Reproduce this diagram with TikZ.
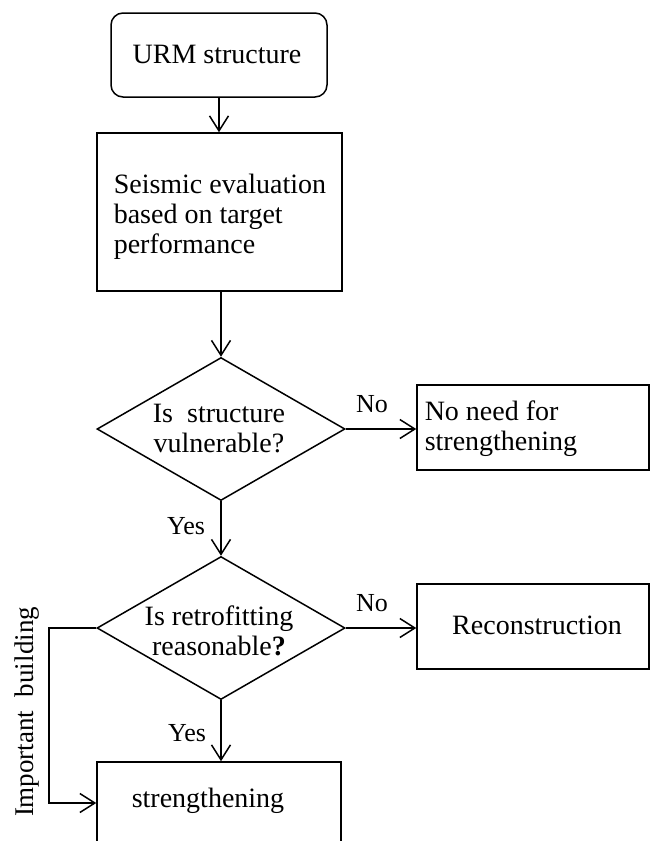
\documentclass[tikz,border=0pt]{standalone}
\usepackage{fontspec}
\setmainfont{Liberation Serif}
\usetikzlibrary{arrows.meta,shapes.geometric}
\begin{document}
\begin{tikzpicture}[x=1pt,y=-1pt,
  line width=1.5pt,
  box/.style={draw, rectangle, inner sep=0pt},
  dia/.style={draw, diamond, inner sep=0pt, minimum width=248pt, minimum height=143pt},
  arr/.style={-{Straight Barb[length=15pt,width=19pt]}},
  big/.style={font=\fontsize{28}{30}\selectfont, inner sep=0pt},
  lab/.style={font=\fontsize{26}{28}\selectfont, inner sep=0pt},
]
\useasboundingbox (0,0) rectangle (650,841);
\clip (0,0) rectangle (650,841);

% nodes
\node[box, rounded corners=12pt, minimum width=216pt, minimum height=84pt] (urm) at (219,55) {};
\node[big] (urmt) at (217,54) {URM structure};

\node[box, minimum width=245pt, minimum height=158pt] (seis) at (219.5,212) {};
\node[big, anchor=west, align=left] (seist) at (113,217) {Seismic evaluation\\based on target\\performance};

\node[dia] (d1) at (221,429) {};
\node[big, align=center] (d1t) at (219,429) {Is\ \ structure\\vulnerable?};

\node[box, minimum width=232pt, minimum height=85pt] (nn) at (533,427.5) {};
\node[big, anchor=west, align=left] (nnt) at (424,429) {No need for\\strengthening};

\node[dia] (d2) at (221,628) {};
\node[big, align=center] (d2t) at (219,631) {Is retrofitting\\reasonable\textbf{?}};

\node[box, minimum width=232pt, minimum height=85pt] (rec) at (533,626.5) {};
\node[big] (rect) at (537,625) {Reconstruction};

\node[box, minimum width=244pt, minimum height=140pt] (str) at (219,832) {};
\node[big] (strt) at (208,801) {strengthening};

% labels
\node[lab] (no1) at (372,404) {No};
\node[lab] (no2) at (372,603) {No};
\node[lab] (yes1) at (186,526) {Yes};
\node[lab] (yes2) at (187,733) {Yes};
\node[inner sep=0pt, font=\fontsize{27}{29}\selectfont, rotate=90] (imp) at (27,712) {Important\ \ building};

% connectors
\coordinate (ib) at (49,803);
\draw[arr] (urm.south) -- (urm.south |- seis.north);
\draw[arr] (d1.north |- seis.south) -- (d1.north);
\draw[arr] (d1.east) -- (d1.east -| nn.west);
\draw[arr] (d1.south) -- (d2.north);
\draw[arr] (d2.east) -- (d2.east -| rec.west);
\draw[arr] (d2.south) -- (d2.south |- str.north);
\draw[arr] (d2.west) -| (ib) -- (ib -| str.west);
\end{tikzpicture}
\end{document}
